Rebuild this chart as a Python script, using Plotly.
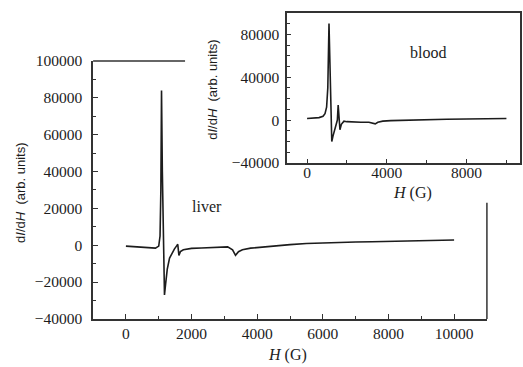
import plotly.graph_objects as go

# ---- data: liver (main panel) ----
liver_H = [0, 300, 600, 900, 1000, 1040, 1065, 1085, 1110, 1140, 1175, 1210, 1260, 1330,
           1410, 1480, 1540, 1580, 1615, 1660, 1750, 1870, 2000, 2300, 2600, 2900, 3100,
           3250, 3340, 3430, 3550, 3800, 4200, 4600, 5000, 5500, 6000, 6500, 7000, 7500,
           8000, 8500, 9000, 9500, 10000]
liver_I = [-500, -800, -1200, -1600, -500, 5000, 30000, 84000, 40000, -5000, -27000, -21000,
           -13000, -7000, -4000, -2000, -500, 500, -5500, -3500, -2500, -2000, -1700, -1500,
           -1400, -1200, -900, -2500, -5500, -3500, -2500, -1600, -900, -300, 300, 900, 1300,
           1500, 1700, 1900, 2000, 2200, 2400, 2600, 2800]

# ---- data: blood (inset) ----
blood_H = [0, 300, 600, 800, 900, 980, 1040, 1100, 1140, 1180, 1210, 1240, 1300, 1380,
           1460, 1520, 1560, 1600, 1650, 1720, 1850, 2000, 2300, 2700, 3100, 3300, 3420,
           3550, 3800, 4200, 5000, 6000, 7000, 8000, 9000, 10000]
blood_I = [1500, 1800, 2300, 3500, 6000, 12000, 30000, 90000, 50000, 5000, -12000, -20000,
           -15000, -9000, -5000, 0, 14000, 3000, -9000, -4000, -1000, -1500, -2000, -2000,
           -2000, -3000, -3500, -2000, -1000, -500, 0, 400, 700, 1000, 1300, 1500]

main_x_range = [-1000, 11000]
main_y_range = [-40000, 100000]
inset_x_range = [-1000, 10700]
inset_y_range = [-40000, 100000]

SERIF = "Liberation Serif"
SANS = "Liberation Sans"
INK = "#1c1c1c"

fig = go.Figure()
fig.add_trace(go.Scatter(x=liver_H, y=liver_I, mode="lines",
                         line=dict(color=INK, width=1.6), xaxis="x", yaxis="y",
                         showlegend=False, hoverinfo="skip"))
fig.add_trace(go.Scatter(x=blood_H, y=blood_I, mode="lines",
                         line=dict(color=INK, width=1.6), xaxis="x2", yaxis="y2",
                         showlegend=False, hoverinfo="skip"))

tickfont = dict(family=SERIF, size=15.5, color=INK)

fig.update_layout(
    template="none",
    width=523, height=367,
    margin=dict(l=0, r=0, t=0, b=0),
    paper_bgcolor="white", plot_bgcolor="rgba(0,0,0,0)",
    xaxis=dict(domain=[0.178, 0.931], anchor="y", range=main_x_range, automargin=False,
               showgrid=False, zeroline=False, showline=True, linecolor="#333",
               linewidth=1.5, ticks="inside", ticklen=5, tickcolor="#333",
               dtick=2000, tick0=0, tickformat="d", tickfont=tickfont,
               ticklabelstandoff=0,
               minor=dict(dtick=1000, ticks="inside", ticklen=3, tickcolor="#333")),
    yaxis=dict(domain=[0.131, 0.834], anchor="x", range=main_y_range, automargin=False,
               showgrid=False, zeroline=False, showline=True, linecolor="#333",
               linewidth=1.5, ticks="inside", ticklen=5, tickcolor="#333",
               dtick=20000, tick0=0, tickformat="d", tickfont=tickfont,
               ticklabelstandoff=6,
               minor=dict(dtick=10000, ticks="inside", ticklen=3, tickcolor="#333")),
    xaxis2=dict(domain=[0.549, 0.995], anchor="y2", range=inset_x_range, automargin=False,
                showgrid=False, zeroline=False, showline=True, linecolor="#333",
                linewidth=1.5, mirror=True, ticks="inside", ticklen=4, tickcolor="#333",
                dtick=4000, tick0=0, tickformat="d", tickfont=tickfont,
                ticklabelstandoff=-5,
                minor=dict(dtick=2000, ticks="inside", ticklen=3, tickcolor="#333")),
    yaxis2=dict(domain=[0.556, 0.965], anchor="x2", range=inset_y_range, automargin=False,
                showgrid=False, zeroline=False, showline=True, linecolor="#333",
                linewidth=1.5, mirror=True, ticks="inside", ticklen=4, tickcolor="#333",
                dtick=40000, tick0=0, tickformat="d", tickfont=tickfont,
                ticklabelstandoff=3,
                minor=dict(dtick=10000, ticks="inside", ticklen=3, tickcolor="#333")),
    shapes=[
        # partial top spine of the main panel
        dict(type="line", xref="x domain", yref="y domain", x0=0, x1=0.2335, y0=1, y1=1,
             line=dict(color="#333", width=1.5)),
        # partial right spine of the main panel
        dict(type="line", xref="x domain", yref="y domain", x0=1, x1=1, y0=0, y1=0.45,
             line=dict(color="#333", width=1.5)),
    ],
    annotations=[
        dict(text="d<i>I</i>/d<i>H</i>  (arb. units)", xref="paper", yref="paper",
             x=0.038, y=0.474, textangle=-90, showarrow=False,
             font=dict(family=SANS, size=13, color=INK), xanchor="center", yanchor="middle"),
        dict(text="<i>H</i> (G)", xref="paper", yref="paper", x=0.549, y=0.033,
             showarrow=False, font=dict(family=SERIF, size=16, color=INK),
             xanchor="center", yanchor="middle"),
        dict(text="d<i>I</i>/d<i>H</i>  (arb. units)", xref="paper", yref="paper",
             x=0.407, y=0.755, textangle=-90, showarrow=False,
             font=dict(family=SANS, size=13, color=INK), xanchor="center", yanchor="middle"),
        dict(text="<i>H</i> (G)", xref="paper", yref="paper", x=0.788, y=0.474,
             showarrow=False, font=dict(family=SERIF, size=16, color=INK),
             xanchor="center", yanchor="middle"),
        dict(text="liver", xref="x", yref="y", x=2460, y=21000, showarrow=False,
             font=dict(family=SERIF, size=16, color=INK)),
        dict(text="blood", xref="x2", yref="y2", x=6050, y=63000, showarrow=False,
             font=dict(family=SERIF, size=16, color=INK)),
    ],
)

fig.write_html("out.html")
